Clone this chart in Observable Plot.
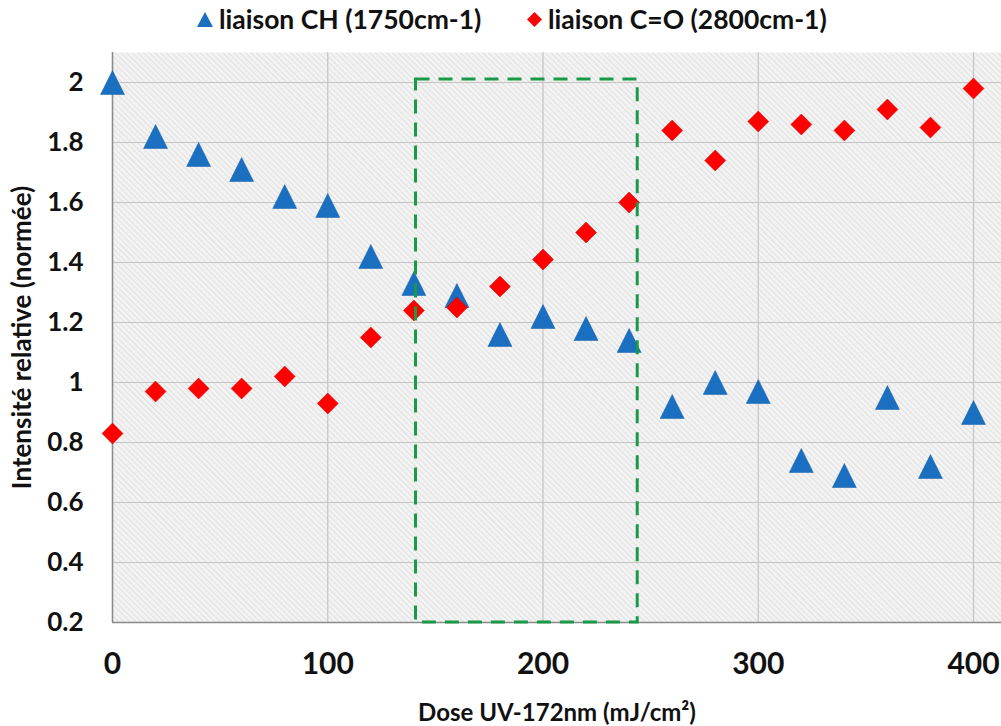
<!DOCTYPE html>
<html>
<head>
<meta charset="utf-8">
<script src="https://cdn.jsdelivr.net/npm/d3@7"></script>
<script src="https://cdn.jsdelivr.net/npm/@observablehq/plot@0.6"></script>
<style>
  html, body { margin: 0; padding: 0; background: #fff; }
  body { width: 1001px; height: 726px; overflow: hidden; font-family: Lato, "Open Sans", sans-serif; }
  #legend { position: relative; height: 40px; font-weight: 700; font-size: 26.5px; color: #111; }
  #legend .item { position: absolute; top: 0; height: 38px; display: flex; align-items: center; white-space: nowrap; }
  #legend svg { margin-right: 6px; }
</style>
</head>
<body>
<div id="legend"></div>
<div id="chart"></div>
<script>
// ---- data ----
const doses = [0, 20, 40, 60, 80, 100, 120, 140, 160, 180, 200, 220, 240, 260, 280, 300, 320, 340, 360, 380, 400];
const chValues = [2.0, 1.82, 1.76, 1.71, 1.62, 1.59, 1.42, 1.33, 1.29, 1.16, 1.22, 1.18, 1.14, 0.92, 1.00, 0.97, 0.74, 0.69, 0.95, 0.72, 0.90];
const coValues = [0.83, 0.97, 0.98, 0.98, 1.02, 0.93, 1.15, 1.24, 1.25, 1.32, 1.41, 1.50, 1.60, 1.84, 1.74, 1.87, 1.86, 1.84, 1.91, 1.85, 1.98];
const seriesNames = ["liaison CH (1750cm-1)", "liaison C=O (2800cm-1)"];
const xTicks = [0, 100, 200, 300, 400];
const yTicks = [0.2, 0.4, 0.6, 0.8, 1.0, 1.2, 1.4, 1.6, 1.8, 2.0];
const boxX = [141, 244];
const boxY = [0.2, 2.01];
const xTitle = "Dose UV-172nm (mJ/cm²)";
const yTitle = "Intensité relative (normée)";

const chData = doses.map((d, i) => ({dose: d, value: chValues[i]}));
const coData = doses.map((d, i) => ({dose: d, value: coValues[i]}));
const boxData = [{x1: boxX[0], x2: boxX[1], y1: boxY[0], y2: boxY[1]}];

const BLUE = "#1a6fc1";
const RED = "#ff0000";
const GREEN = "#1a9a48";

// custom symbols, centred on their bounding box like spreadsheet markers
const triangleSym = {
  draw(ctx, size) {
    const r = Math.sqrt(size / Math.PI);
    ctx.moveTo(0, -r); ctx.lineTo(r, r); ctx.lineTo(-r, r); ctx.closePath();
  }
};
const diamondSym = {
  draw(ctx, size) {
    const r = Math.sqrt(size / Math.PI);
    ctx.moveTo(0, -r); ctx.lineTo(r, 0); ctx.lineTo(0, r); ctx.lineTo(-r, 0); ctx.closePath();
  }
};

const fmt = d => String(+(+d).toFixed(1));

const chart = Plot.plot({
  width: 1001,
  height: 686,
  marginTop: 12,
  marginBottom: 104,
  marginLeft: 112,
  marginRight: 0,
  style: {fontFamily: "Lato, 'Open Sans', sans-serif", fontWeight: "700", color: "#111", background: "transparent"},
  x: {domain: [0, 413]},
  y: {domain: [0.2, 2.1]},
  marks: [
    Plot.frame({fill: "url(#hatch)", stroke: null}),
    Plot.gridX(xTicks, {stroke: "#c4c4c4", strokeOpacity: 1, strokeWidth: 1.2}),
    Plot.gridY(yTicks, {stroke: "#c4c4c4", strokeOpacity: 1, strokeWidth: 1.2}),
    Plot.ruleX([xTicks[0]], {stroke: "#8a8a8a", strokeWidth: 1.5}),
    Plot.ruleY([yTicks[0]], {stroke: "#8a8a8a", strokeWidth: 1.5}),
    Plot.axisY({ticks: yTicks, tickSize: 0, tickPadding: 29, tickFormat: fmt, fontSize: 26, label: null}),
    Plot.axisX({ticks: xTicks, tickSize: 0, tickPadding: 30, tickFormat: fmt, fontSize: 30, label: null}),
    Plot.text([yTitle], {frameAnchor: "left", textAnchor: "middle", lineAnchor: "middle", rotate: -90, dx: -90, fontSize: 26, fill: "#111"}),
    Plot.text([xTitle], {frameAnchor: "bottom", textAnchor: "middle", lineAnchor: "middle", dy: 91, fontSize: 24, fill: "#111"}),
    Plot.dot(chData, {x: "dose", y: "value", symbol: triangleSym, r: 12, fill: BLUE, stroke: "#1560ad", strokeWidth: 0.5}),
    Plot.dot(coData, {x: "dose", y: "value", symbol: diamondSym, r: 10.5, fill: RED, stroke: "#d40000", strokeWidth: 0.5}),
    Plot.rect(boxData, {x1: "x1", x2: "x2", y1: "y1", y2: "y2", fill: "none", stroke: GREEN, strokeWidth: 3, strokeDasharray: "14,9"})
  ]
});

// hatch pattern for the plot background
const ns = "http://www.w3.org/2000/svg";
const defs = document.createElementNS(ns, "defs");
defs.innerHTML = `<pattern id="hatch" patternUnits="userSpaceOnUse" width="4" height="4" patternTransform="rotate(-45)">
  <rect width="4" height="4" fill="#f3f3f3"></rect>
  <line x1="0" y1="0" x2="0" y2="4" stroke="#dadada" stroke-width="1.5"></line>
</pattern>`;
chart.insertBefore(defs, chart.firstChild);
document.getElementById("chart").appendChild(chart);

// legend
const legend = document.getElementById("legend");
const items = [
  {left: 197, name: seriesNames[0], svg: `<svg width="16" height="15" viewBox="0 0 16 15"><path d="M8,0L16,15L0,15Z" fill="${BLUE}"/></svg>`},
  {left: 527, name: seriesNames[1], svg: `<svg width="15" height="15" viewBox="0 0 15 15"><path d="M7.5,0L15,7.5L7.5,15L0,7.5Z" fill="${RED}"/></svg>`}
];
for (const it of items) {
  const div = document.createElement("div");
  div.className = "item";
  div.style.left = it.left + "px";
  div.innerHTML = it.svg + `<span>${it.name}</span>`;
  legend.appendChild(div);
}
</script>
</body>
</html>
